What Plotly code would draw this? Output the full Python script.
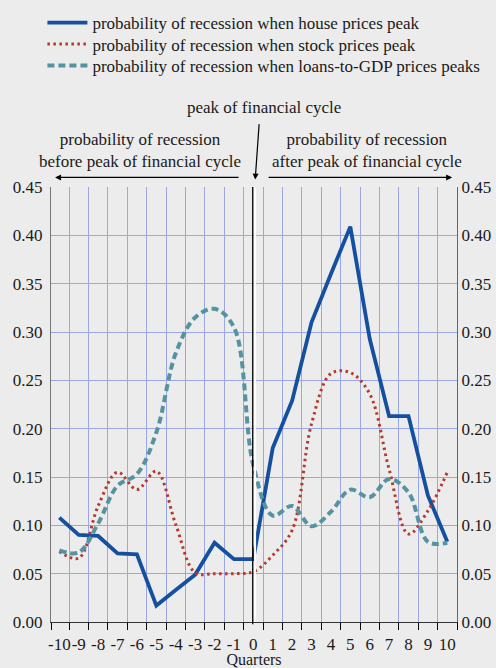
import plotly.graph_objects as go

# ==========================================
# DATA
# ==========================================

quarters = list(range(-10, 11))
tick_text = [str(q) for q in quarters]
y_ticks = [0.00, 0.05, 0.10, 0.15, 0.20, 0.25, 0.30, 0.35, 0.40, 0.45]
boundaries = [-10.42] + [q + 0.5 for q in range(-10, 10)] + [10.5]

house = [0.108, 0.090, 0.089, 0.071, 0.070, 0.017, 0.033, 0.049, 0.082, 0.065, 0.065,
         0.180, 0.229, 0.310, 0.360, 0.409, 0.293, 0.213, 0.213, 0.131, 0.083]

stock = [0.073, 0.066, 0.120, 0.155, 0.137, 0.156, 0.101, 0.051, 0.050, 0.050, 0.052,
         0.069, 0.095, 0.205, 0.257, 0.258, 0.236, 0.158, 0.091, 0.115, 0.155]

loans = [0.074, 0.072, 0.102, 0.141, 0.153, 0.196, 0.278, 0.315, 0.324, 0.305, 0.162,
         0.110, 0.120, 0.099, 0.114, 0.137, 0.129, 0.148, 0.134, 0.083, 0.082]

names = [
    "probability of recession when house prices peak",
    "probability of recession when stock prices peak",
    "probability of recession when loans-to-GDP prices peaks",
]

BG = "#ececec"
GRID = "#9aa6e6"
FONT = "Liberation Serif"
TXT = "#1a1a1a"
FS = 17

# ==========================================
# FIGURE
# ==========================================

fig = go.Figure()

fig.add_trace(go.Scatter(
    x=quarters, y=house, name=names[0], mode="lines", legend="legend",
    line=dict(color="#1550a0", width=3.8),
))

fig.add_trace(go.Scatter(
    x=quarters, y=stock, name=names[1], mode="lines", legend="legend2",
    line=dict(color="#b3392c", width=3, dash="2.5px,3.5px", shape="spline", smoothing=1),
))

fig.add_trace(go.Scatter(
    x=quarters, y=loans, name=names[2], mode="lines", legend="legend3",
    line=dict(color="#5693a0", width=4, dash="7px,4px", shape="spline", smoothing=1),
))

# invisible trace so the right axis is drawn
fig.add_trace(go.Scatter(
    x=quarters, y=house, yaxis="y2", mode="lines",
    line=dict(color="rgba(0,0,0,0)"), showlegend=False, hoverinfo="skip",
))

# peak marker line at quarter 0
fig.add_shape(type="line", xref="x", yref="paper", x0=0.09, x1=0.09, y0=0, y1=1,
              line=dict(color="white", width=2))
fig.add_shape(type="line", xref="x", yref="paper", x0=-0.03, x1=-0.03, y0=-0.005, y1=1,
              line=dict(color="black", width=1.3))

# annotations
txt_font = dict(size=FS, color=TXT, family=FONT)
fig.add_annotation(
    text="peak of financial cycle", xref="paper", yref="paper",
    x=0.525, y=1.183, xanchor="center", yanchor="middle",
    showarrow=False, font=txt_font,
)
fig.add_annotation(
    text="probability of recession<br>before peak of financial cycle", xref="paper", yref="paper",
    x=0.219, y=1.084, xanchor="center", yanchor="middle",
    showarrow=False, font=txt_font,
)
fig.add_annotation(
    text="probability of recession<br>after peak of financial cycle", xref="paper", yref="paper",
    x=0.779, y=1.084, xanchor="center", yanchor="middle",
    showarrow=False, font=txt_font,
)

# arrows
fig.add_annotation(
    text="", xref="paper", yref="paper", x=0.01, y=1.022, ax=185, ay=0,
    showarrow=True, arrowhead=2, arrowsize=1, arrowwidth=1.2, arrowcolor="black",
)
fig.add_annotation(
    text="", xref="paper", yref="paper", x=0.988, y=1.022, ax=-185, ay=0,
    showarrow=True, arrowhead=2, arrowsize=1, arrowwidth=1.2, arrowcolor="black",
)
fig.add_annotation(
    text="", xref="paper", yref="paper", x=0.503, y=1.017, ax=4, ay=-57,
    showarrow=True, arrowhead=2, arrowsize=1, arrowwidth=1.2, arrowcolor="black",
)

legend_style = dict(
    xref="container", yref="container", x=0.0855, xanchor="left", yanchor="middle",
    bgcolor="rgba(0,0,0,0)", font=dict(size=FS, family=FONT, color=TXT),
    itemwidth=40,
)

fig.update_layout(
    width=496,
    height=668,
    margin=dict(l=51, r=39, t=187, b=46, autoexpand=False),
    paper_bgcolor=BG,
    plot_bgcolor=BG,
    font=dict(family=FONT, size=FS, color=TXT),
    showlegend=True,
    legend=dict(legend_style, y=1 - 23 / 668),
    legend2=dict(legend_style, y=1 - 44.5 / 668),
    legend3=dict(legend_style, y=1 - 66 / 668),
    xaxis=dict(
        range=[-10.43, 10.5], automargin=False,
        tickvals=quarters, ticktext=tick_text, ticks="",
        tickangle=0, tickfont=dict(size=FS, family=FONT, color=TXT),
        ticklabelstandoff=6,
        showgrid=False, zeroline=False,
        showline=True, linecolor="#333333", linewidth=1.2,
        minor=dict(tickvals=boundaries, ticks="outside", ticklen=7, tickwidth=1.3,
                   tickcolor="black", showgrid=True, gridcolor=GRID, gridwidth=1.2),
        title=dict(text="Quarters", font=dict(size=16, family=FONT, color=TXT), standoff=2),
    ),
    yaxis=dict(
        range=[0, 0.45], tickvals=y_ticks, tickformat=".2f", automargin=False,
        ticks="outside", ticklen=4, tickcolor=BG,
        tickfont=dict(size=FS, family=FONT, color=TXT),
        showgrid=True, gridcolor=GRID, gridwidth=1.2, zeroline=False,
        showline=True, linecolor="#777777", linewidth=1,
    ),
    yaxis2=dict(
        range=[0, 0.45], tickvals=y_ticks, tickformat=".2f", automargin=False,
        overlaying="y", side="right", ticks="",
        tickfont=dict(size=FS, family=FONT, color=TXT),
        showgrid=False, zeroline=False,
        showline=True, linecolor="#666666", linewidth=1,
    ),
)

fig.write_html(
    "out.html",
    config={"displayModeBar": False},
    post_script="document.body.style.margin='0';",
)
